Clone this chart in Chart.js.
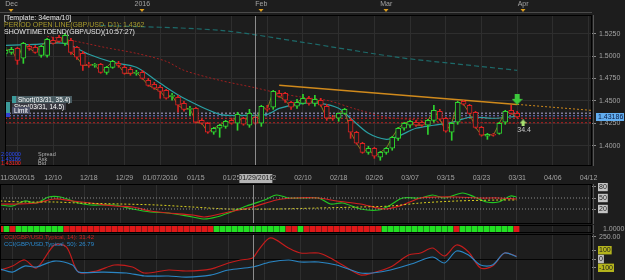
<!DOCTYPE html>
<html>
<head>
<meta charset="utf-8">
<title>GBP/USD D1</title>
<script src="https://cdn.jsdelivr.net/npm/chart.js@4.4.1/dist/chart.umd.min.js"></script>
<style>
  html, body { margin: 0; padding: 0; }
  body { width: 625px; height: 280px; overflow: hidden; position: relative; background: #1d1d1d;
         font-family: 'Liberation Sans Narrow', 'Liberation Sans', Arial, sans-serif; }
  canvas { position: absolute; left: 0; }
  .t { position: absolute; font-size: 7px; line-height: 7px; white-space: nowrap; }
  .s { position: absolute; font-size: 5.5px; line-height: 5px; white-space: nowrap; }
  .box { position: absolute; font-size: 6.5px; line-height: 7px; height: 7px; white-space: nowrap; color: #fff; padding: 0 2px; }
</style>
</head>
<body>
<canvas id="main" width="625" height="185" style="top:0"></canvas>
<canvas id="osc" width="625" height="42" style="top:183px"></canvas>
<canvas id="dots" width="625" height="10" style="top:224px"></canvas>
<canvas id="cci" width="625" height="60" style="top:233px"></canvas>

<div class="t" style="left:4px;top:14px;color:#e6e6e6">[Template: 34ema/10]</div>
<div class="t" style="left:4px;top:21px;color:#a89a2c">PERIOD OPEN LINE(GBP/USD, D1): 1.4362</div>
<div class="t" style="left:4px;top:28px;color:#e6e6e6">SHOWTIMETOEND(GBP/USD)(10:57:27)</div>

<div style="position:absolute;left:6px;top:102px;width:4px;height:11px;background:#3c9a9a"></div>
<div style="position:absolute;left:6px;top:113px;width:4px;height:4px;background:#3040d0"></div>
<div class="box" style="left:12px;top:96px;background:#4a5c62;border-left:4px solid #3c9a9a">Short(03/31, 35.4)</div>
<div class="box" style="left:12px;top:103px;background:#3a3a42">Stop(03/31, 14.5)</div>
<div class="box" style="left:12px;top:107px;background:#4c5066">Limit</div>

<div class="s" style="left:1px;top:152px;color:#2a4cff">2.00000</div><div class="s" style="left:38px;top:152px;color:#b0b0b0">Spread</div>
<div class="s" style="left:1px;top:157px;color:#2a4cff">1.43186</div><div class="s" style="left:38px;top:157px;color:#b0b0b0">Ask</div>
<div class="s" style="left:1px;top:161px;color:#ff2020">1.43100</div><div class="s" style="left:38px;top:161px;color:#b0b0b0">Bid</div>

<div class="t" style="left:4px;top:234px;color:#d02020;font-size:6px">CCI(GBP/USD,Typical, 14): 31.42</div>
<div class="t" style="left:4px;top:241px;color:#2a8ad0;font-size:6px">CCI(GBP/USD,Typical, 50): 26.79</div>

<script>
// ---- daily candles, index 0 = 11/30/2015 ... 86 = 03/31/2016
const candleOpen = [1.5030,1.5041,1.5086,1.4975,1.5108,1.5097,1.5008,1.5008,1.5175,1.5208,
  1.5142,1.5175,1.5097,1.5030,1.4907,1.4896,1.4907,1.4818,1.4874,1.4918,
  1.4874,1.4852,1.4807,1.4818,1.4729,1.4684,1.4651,1.4617,1.4550,1.4539,
  1.4472,1.4405,1.4416,1.4282,1.4249,1.4149,1.4193,1.4215,1.4282,1.4249,
  1.4305,1.4227,1.4316,1.4249,1.4416,1.4428,1.4584,1.4584,1.4483,1.4439,
  1.4472,1.4528,1.4472,1.4506,1.4439,1.4316,1.4305,1.4360,1.4282,1.4149,
  1.4026,1.3925,1.3970,1.3870,1.3925,1.3970,1.4081,1.4193,1.4227,1.4260,
  1.4260,1.4227,1.4282,1.4383,1.4305,1.4149,1.4260,1.4495,1.4450,1.4372,
  1.4204,1.4104,1.4126,1.4137,1.4260,1.4394,1.4360];
const candleHigh = [1.5097,1.5097,1.5097,1.5153,1.5131,1.5119,1.5119,1.5197,1.5208,1.5231,
  1.5253,1.5197,1.5108,1.5052,1.4930,1.4918,1.4918,1.4885,1.4952,1.4941,
  1.4896,1.4874,1.4840,1.4840,1.4751,1.4706,1.4673,1.4628,1.4584,1.4561,
  1.4495,1.4439,1.4428,1.4294,1.4260,1.4204,1.4238,1.4282,1.4305,1.4372,
  1.4316,1.4405,1.4338,1.4450,1.4450,1.4617,1.4617,1.4595,1.4495,1.4517,
  1.4573,1.4550,1.4561,1.4528,1.4461,1.4338,1.4360,1.4416,1.4305,1.4160,
  1.4037,1.3992,1.3981,1.3936,1.3981,1.4104,1.4204,1.4260,1.4282,1.4282,
  1.4271,1.4294,1.4450,1.4405,1.4316,1.4260,1.4495,1.4506,1.4461,1.4383,
  1.4215,1.4137,1.4137,1.4260,1.4394,1.4450,1.4383];
const candleLow = [1.4997,1.5019,1.4907,1.4918,1.5064,1.5030,1.4986,1.4986,1.5131,1.5153,
  1.5119,1.5019,1.4963,1.4840,1.4874,1.4874,1.4807,1.4796,1.4863,1.4874,
  1.4796,1.4785,1.4785,1.4740,1.4662,1.4628,1.4528,1.4517,1.4506,1.4372,
  1.4383,1.4338,1.4249,1.4238,1.4137,1.4126,1.4093,1.4193,1.4238,1.4171,
  1.4227,1.4204,1.4238,1.4215,1.4383,1.4405,1.4539,1.4483,1.4405,1.4416,
  1.4461,1.4450,1.4439,1.4439,1.4282,1.4282,1.4271,1.4349,1.4081,1.4015,
  1.3914,1.3903,1.3858,1.3836,1.3903,1.3948,1.4059,1.4171,1.4204,1.4215,
  1.4215,1.4126,1.4260,1.4282,1.4149,1.4059,1.4238,1.4450,1.4350,1.4193,
  1.4104,1.4070,1.4104,1.4126,1.4238,1.4350,1.4305];
const candleClose = [1.5064,1.5075,1.4952,1.5142,1.5086,1.5041,1.5108,1.5186,1.5142,1.5164,
  1.5231,1.5041,1.4986,1.4896,1.4896,1.4907,1.4818,1.4874,1.4941,1.4896,
  1.4807,1.4807,1.4818,1.4751,1.4673,1.4640,1.4606,1.4528,1.4561,1.4450,
  1.4405,1.4416,1.4260,1.4249,1.4149,1.4193,1.4227,1.4271,1.4249,1.4349,
  1.4238,1.4360,1.4249,1.4439,1.4405,1.4606,1.4550,1.4506,1.4428,1.4483,
  1.4528,1.4472,1.4517,1.4450,1.4305,1.4305,1.4360,1.4405,1.4149,1.4026,
  1.3925,1.3970,1.3881,1.3925,1.3970,1.4093,1.4193,1.4249,1.4271,1.4227,
  1.4227,1.4282,1.4394,1.4294,1.4160,1.4249,1.4483,1.4461,1.4360,1.4204,
  1.4115,1.4126,1.4115,1.4249,1.4383,1.4360,1.4319];
const lastPrice = 1.43186;

// ---- axis ticks
const dateTickIdx = [2,8,14,20,26,32,38,44,50,56,62,68,74,80,86,92,98];
const dateTickLabels = ['11/30/2015','12/10','12/18','12/29','01/07/2016','01/15','01/25','02/02',
  '02/10','02/18','02/26','03/07','03/15','03/23','03/31','04/06','04/12'];
const monthTickIdx = [1,23,43,64,87];
const monthTickLabels = ['Dec','2016','Feb','Mar','Apr'];
const priceTicks = [1.4000,1.4250,1.4500,1.4750,1.5000,1.5250];
const crossIdx = 42;
const crossLabel = '01/29/2016';

// ---- overlays on price
const emaIdx = [0,5,10,14,18,22,26,30,36,40,44,46,50,53,56,58,61,64,66,69,72,75,78,82,86];
const emaVal = [1.5119,1.5130,1.5142,1.5019,1.4930,1.4874,1.4695,1.4528,1.4349,1.4338,1.4349,1.4416,1.4472,
  1.4472,1.4416,1.4305,1.4137,1.4070,1.4104,1.4193,1.4227,1.4260,1.4316,1.4305,1.4327];
const slowIdx = [7,11,17,22,27,30,36,42,46,50,54,59,64,68,72,78,86];
const slowVal = [1.5220,1.5175,1.5092,1.5030,1.4941,1.4840,1.4729,1.4645,1.4584,1.4539,1.4506,1.4405,
  1.4316,1.4293,1.4271,1.4260,1.4249];
const longIdx = [16,36,50,66,75,86];
const longVal = [1.5343,1.5287,1.5153,1.4985,1.4918,1.4840];
const trendIdx = [46,86];
const trendVal = [1.4673,1.4460];
const trendExtIdx = [86,98.5];
const trendExtVal = [1.4460,1.4393];
const levelVals = [1.4362,1.4333,1.4305,1.4255];
const levelCols = ['#b4acd8','#7c7cd4','#d83030','#b82020'];
const sigDownIdx = 86, sigDownVal = 1.4516;
const sigUpIdx = 87, sigUpVal = 1.4254, sigUpText = '34.4';

// ---- oscillator panel
const oscFastIdx = [0,2,4,6,8,10,13,15,19,22,25,28,32,34,36,38,41,44,46,48,50,53,55,57,60,63,65,67,70,72,74,77,79,81,83,85,86];
const oscFastVal = [47.5,45,57.5,52.5,67.5,67.5,52.5,47.5,47.5,37.5,30,27.5,17.5,12.5,17.5,27.5,45,60,72.5,65,65,65,50,52.5,
  37.5,35,47.5,65,65,72.5,65,77.5,67.5,55,55,70,67.5];
const oscSlowIdx = [0,3,6,9,12,15,19,22,25,28,32,34,38,42,46,49,53,56,60,64,67,70,73,76,80,83,86];
const oscSlowVal = [50,50,52.5,62.5,57.5,52.5,45,42.5,32.5,27.5,22.5,17.5,30,42.5,60,65,65,57.5,50,37.5,47.5,65,67.5,67.5,65,65,62.5];
const oscSigIdx = [0,4,9,13,20,26,32,38,46,53,60,65,70,76,83,86];
const oscSigVal = [57.5,55,55,52.5,50,47.5,42.5,37.5,37.5,40,42.5,45,52.5,57.5,60,60];
const oscLevels = [65,37.5];
const oscTickVals = [92.5,65,37.5];
const oscTickLabels = ['80','50','20'];

// ---- trend state squares (1 = green, 0 = red)
const stateVal = [0,1,0,1,1,1,1,1,1,1,1,0,0,0,0,0,0,0,0,0,0,0,0,0,0,0,0,0,0,0,
  0,0,0,0,0,0,1,1,1,1,1,1,1,1,1,1,1,1,0,0,1,0,0,0,0,0,0,0,0,0,
  0,0,0,0,1,1,1,1,1,1,1,1,1,1,1,1,0,1,1,1,1,1,1,1,1,1,0];

// ---- CCI
const cci14Idx = [0,2,4,6,9,11,13,16,19,22,24,28,31,35,38,40,42,43,45,48,50,53,55,57,60,62,65,68,70,72,74,76,78,80,82,84,86];
const cci14Val = [-125,-80,-11,-102,159,136,-148,-136,-68,-91,-159,-125,-136,-114,-45,-11,11,102,239,125,68,68,11,-68,
  -182,-159,-91,45,68,125,34,159,80,-102,-80,68,31];
const cci50Idx = [0,2,4,6,9,12,13,17,21,24,28,31,35,38,42,45,48,50,53,56,60,62,65,69,72,74,76,78,80,82,84,86];
const cci50Val = [-114,-148,-80,-91,-23,-68,-148,-148,-159,-193,-193,-205,-182,-125,-91,-34,-11,-34,-34,-68,
  -159,-159,-125,-45,23,-45,91,45,-68,-68,68,27];
const cciTicks = [-100,0,100,250];

// ---------------------------------------------------------------
const X_MIN = -0.083, X_MAX = 98.58;
const BG = '#1d1d1d', GRID = '#2e2e2e', AXIS_TXT = '#a4a4a4';
const UP = '#2fd42f', DN = '#dc2222';
const FONT = "'Liberation Sans Narrow', 'Liberation Sans', Arial, sans-serif";
Chart.defaults.font.family = FONT;
Chart.defaults.font.size = 7;
Chart.defaults.color = AXIS_TXT;
Chart.defaults.plugins.legend.display = false;
Chart.defaults.plugins.tooltip.enabled = false;

const pts = (xs, ys) => xs.map((x, i) => ({ x: x, y: ys[i] }));
const line = (data, color, extra) => Object.assign({ type: 'line', data: data, borderColor: color, borderWidth: 1,
  pointRadius: 0, fill: false, tension: 0.3 }, extra || {});

function timeAxis(showLabels) {
  return {
    type: 'linear', position: 'bottom', min: X_MIN, max: X_MAX, offset: false,
    grid: { color: GRID, drawTicks: false, offset: false },
    border: { display: false },
    afterBuildTicks: s => { s.ticks = dateTickIdx.map(v => ({ value: v })); },
    afterFit: s => { s.height = showLabels ? 19 : 0; s.paddingLeft = 0; s.paddingRight = 0; },
    ticks: { display: showLabels, autoSkip: false, maxRotation: 0, padding: 8, color: AXIS_TXT,
      callback: (v, i) => dateTickLabels[i] }
  };
}
function sideAxis(min, max, vals, fmt, more) {
  const ax = {
    type: 'linear', position: 'right', min: min, max: max,
    afterBuildTicks: s => { s.ticks = vals.map(v => ({ value: v })); },
    afterFit: s => { s.width = 33; s.paddingTop = 0; s.paddingBottom = 0; },
    border: { display: false },
    grid: { color: GRID, tickColor: '#8a8a8a', tickLength: 4 },
    ticks: { padding: 3, color: AXIS_TXT, callback: fmt }
  };
  return Object.assign(ax, more || {});
}

// frame + crosshair drawn on every panel
const framePlugin = {
  id: 'frame',
  afterDatasetsDraw(chart) {
    const a = chart.chartArea, ctx = chart.ctx;
    ctx.save();
    const cx = Math.round(chart.scales.x.getPixelForValue(crossIdx)) + 0.5;
    ctx.strokeStyle = '#8c8c8c';
    ctx.lineWidth = 1;
    ctx.beginPath(); ctx.moveTo(cx, a.top); ctx.lineTo(cx, a.bottom); ctx.stroke();
    ctx.strokeStyle = '#000';
    ctx.strokeRect(a.left + 0.5, a.top + 0.5, a.width - 1, a.height - 1);
    ctx.strokeStyle = '#555';
    ctx.beginPath(); ctx.moveTo(a.right + 1.5, a.top); ctx.lineTo(a.right + 1.5, a.bottom); ctx.stroke();
    ctx.restore();
  }
};

// price chart decorations
const mainPlugin = {
  id: 'mainDeco',
  afterDraw(chart) {
    const ctx = chart.ctx, xs = chart.scales.x, ys = chart.scales.y, a = chart.chartArea;
    ctx.save();
    // month markers
    ctx.fillStyle = '#e0a020';
    monthTickIdx.forEach(v => {
      const x = Math.round(xs.getPixelForValue(v));
      ctx.beginPath(); ctx.moveTo(x - 2.5, 9); ctx.lineTo(x + 2.5, 9); ctx.lineTo(x, 12); ctx.fill();
    });
    ctx.strokeStyle = '#4a4a4a';
    ctx.beginPath(); ctx.moveTo(0, 12.5); ctx.lineTo(a.right, 12.5); ctx.stroke();
    // last price box
    const py = Math.round(ys.getPixelForValue(lastPrice));
    ctx.fillStyle = '#62aef0';
    ctx.fillRect(a.right + 4, py - 4, 28, 8);
    ctx.fillStyle = '#0a1a40';
    ctx.font = '7px ' + FONT;
    ctx.textBaseline = 'middle';
    ctx.textAlign = 'left';
    ctx.fillText(lastPrice.toFixed(5), a.right + 6, py + 0.5);
    // signal value
    ctx.fillStyle = '#c8c8c8';
    ctx.textAlign = 'center';
    ctx.fillText(sigUpText, xs.getPixelForValue(sigUpIdx) + 1, ys.getPixelForValue(sigUpVal) + 7);
    // crosshair date box
    const cx = xs.getPixelForValue(crossIdx);
    ctx.fillStyle = '#b4b4b4';
    ctx.fillRect(cx - 16, a.bottom + 8, 33, 9);
    ctx.fillStyle = '#202020';
    ctx.fillText(crossLabel, cx + 0.5, a.bottom + 12.5);
    ctx.restore();
  }
};

function arrowImg(w, h, color, down) {
  const c = document.createElement('canvas');
  c.width = w; c.height = h;
  const g = c.getContext('2d');
  g.fillStyle = color;
  const sw = Math.round(w * 0.45), sx = (w - sw) / 2, mid = Math.round(h * 0.45);
  g.beginPath();
  if (down) {
    g.rect(sx, 0, sw, mid);
    g.moveTo(0, mid); g.lineTo(w, mid); g.lineTo(w / 2, h);
  } else {
    g.moveTo(w / 2, 0); g.lineTo(w, h - mid); g.lineTo(0, h - mid);
    g.rect(sx, h - mid, sw, mid);
  }
  g.fill();
  return c;
}

// ---- main price chart
const idx = candleOpen.map((_, i) => i);
const candleCol = idx.map(i => candleClose[i] >= candleOpen[i] ? UP : DN);
new Chart(document.getElementById('main'), {
  type: 'bar',
  data: {
    datasets: [
      ...levelVals.map((v, k) => line(pts([X_MIN, X_MAX], [v, v]), levelCols[k], { borderDash: [2, 2], tension: 0, order: 10 })),
      line(pts(longIdx, longVal), '#1d6a6a', { borderDash: [5, 3], borderWidth: 1.2, order: 9 }),
      line(pts(slowIdx, slowVal), '#a02020', { borderDash: [2, 2], order: 8 }),
      line(pts(trendIdx, trendVal), '#d08a1c', { borderWidth: 1.5, tension: 0, order: 7 }),
      line(pts(trendExtIdx, trendExtVal), '#d08a1c', { borderDash: [2, 2], tension: 0, order: 7 }),
      line(pts(emaIdx, emaVal), '#2aa0a4', { borderWidth: 1.2, order: 6 }),
      line(pts(idx, candleClose), '#8a7a22', { tension: 0, order: 5 }),
      { type: 'bar', data: idx.map(i => ({ x: i, y: [candleLow[i], candleHigh[i]] })), backgroundColor: candleCol,
        barThickness: 1, grouped: false, order: 4 },
      { type: 'bar', data: idx.map(i => ({ x: i, y: [candleOpen[i], candleClose[i]] })), backgroundColor: BG,
        borderColor: candleCol, borderWidth: 1, borderSkipped: false, barThickness: 5, grouped: false, order: 3 },
      { type: 'scatter', data: [{ x: sigDownIdx, y: sigDownVal }], pointStyle: arrowImg(11, 11, '#3cc83c', true), order: 1 },
      { type: 'scatter', data: [{ x: sigUpIdx, y: sigUpVal }], pointStyle: arrowImg(7, 7, '#a8e070', false), order: 1 }
    ]
  },
  options: {
    responsive: false, animation: false, devicePixelRatio: 1, events: [],
    layout: { padding: 0 },
    scales: {
      x: timeAxis(true),
      xt: {
        type: 'linear', position: 'top', min: X_MIN, max: X_MAX, offset: false,
        grid: { display: false, drawTicks: false, offset: false }, border: { display: false },
        afterBuildTicks: s => { s.ticks = monthTickIdx.map(v => ({ value: v })); },
        afterFit: s => { s.height = 15; s.paddingLeft = 0; s.paddingRight = 0; },
        ticks: { autoSkip: false, maxRotation: 0, padding: 7, color: AXIS_TXT, callback: (v, i) => monthTickLabels[i] }
      },
      y: sideAxis(1.3772, 1.5458, priceTicks, v => v.toFixed(4))
    }
  },
  plugins: [framePlugin, mainPlugin]
});

// ---- oscillator panel
new Chart(document.getElementById('osc'), {
  type: 'line',
  data: {
    datasets: [
      ...oscLevels.map(v => line(pts([X_MIN, X_MAX], [v, v]), '#8c8c8c', { borderDash: [1, 2], tension: 0 })),
      line(pts(oscSigIdx, oscSigVal), '#d8d020', { borderDash: [2, 2] }),
      line(pts(oscSlowIdx, oscSlowVal), '#d42020', { borderWidth: 1.2 }),
      line(pts(oscFastIdx, oscFastVal), '#22c822', { borderWidth: 1.2 })
    ]
  },
  options: {
    responsive: false, animation: false, devicePixelRatio: 1, events: [],
    layout: { padding: { top: 1, bottom: 1 } },
    scales: {
      x: timeAxis(false),
      y: sideAxis(0, 100, oscTickVals, (v, i) => oscTickLabels[i], {
        grid: { drawOnChartArea: false, tickColor: '#8a8a8a', tickLength: 4 },
        ticks: { padding: 3, color: '#202020', showLabelBackdrop: true, backdropColor: '#c4c4c4',
          backdropPadding: { left: 1, right: 1, top: 0, bottom: 0 }, callback: (v, i) => oscTickLabels[i] }
      })
    }
  },
  plugins: [framePlugin]
});

// ---- state squares
new Chart(document.getElementById('dots'), {
  type: 'bar',
  data: {
    datasets: [{ data: idx.map(i => ({ x: i, y: [0.25, 1.75] })), backgroundColor: stateVal.map(s => s ? '#22e022' : '#e01818'),
      barThickness: 5, grouped: false }]
  },
  options: {
    responsive: false, animation: false, devicePixelRatio: 1, events: [],
    layout: { padding: { top: 1, bottom: 1 } },
    scales: {
      x: timeAxis(false),
      y: sideAxis(0, 2, [1], v => v.toFixed(4), { grid: { display: false } })
    }
  },
  plugins: [framePlugin]
});

// ---- CCI panel
new Chart(document.getElementById('cci'), {
  type: 'line',
  data: {
    datasets: [
      line(pts(cci50Idx, cci50Val), '#2a86c4', { borderWidth: 1.2 }),
      line(pts(cci14Idx, cci14Val), '#c41c1c', { borderWidth: 1.2 })
    ]
  },
  options: {
    responsive: false, animation: false, devicePixelRatio: 1, events: [],
    layout: { padding: { top: 1 } },
    scales: {
      x: timeAxis(false),
      y: sideAxis(-386, 284, cciTicks, v => v === 250 ? '250.00' : String(v), {
        grid: { color: c => c.tick && c.tick.value === 0 ? '#050505' : 'rgba(0,0,0,0)', tickColor: '#8a8a8a', tickLength: 4 },
        ticks: { padding: 3,
          color: c => c.tick && c.tick.value === 250 ? AXIS_TXT : '#202020',
          showLabelBackdrop: true,
          backdropColor: c => c.tick && (c.tick.value === 100 || c.tick.value === -100) ? '#b4b41c' : (c.tick && c.tick.value === 0 ? '#bdbdbd' : 'rgba(0,0,0,0)'),
          backdropPadding: { left: 1, right: 1, top: 0, bottom: 0 },
          callback: v => v === 250 ? '250.00' : String(v) }
      })
    }
  },
  plugins: [framePlugin]
});
</script>
</body>
</html>
